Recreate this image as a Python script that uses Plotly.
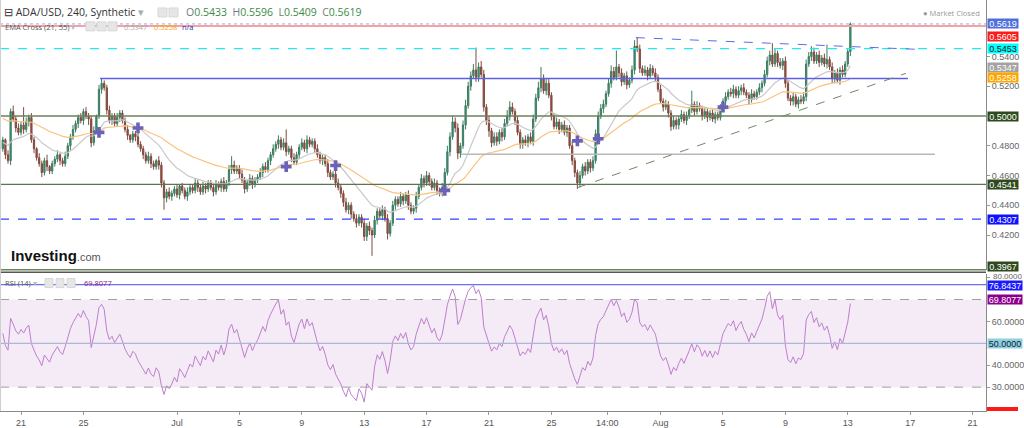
import plotly.graph_objects as go
import pandas as pd

# ---------------- data ----------------
START = "2022-06-19 20:00"          # first 4h candle
FIRST_OPEN = 0.478

CLOSES = [
    0.484, 0.474, 0.470, 0.503, 0.498, 0.492, 0.489, 0.494, 0.491, 0.496, 0.499,
    0.484, 0.478, 0.472, 0.468, 0.462, 0.470, 0.466, 0.463, 0.468, 0.471,
    0.474, 0.470, 0.468, 0.473, 0.480, 0.486, 0.491, 0.495, 0.499, 0.497,
    0.503, 0.500, 0.498, 0.482, 0.490, 0.500, 0.518, 0.522, 0.519, 0.504,
    0.497, 0.500, 0.495, 0.499, 0.502, 0.497, 0.491, 0.487, 0.484, 0.488, 0.486, 0.481,
    0.478, 0.474, 0.470, 0.473, 0.468, 0.466, 0.470, 0.467, 0.455, 0.445, 0.449, 0.446,
    0.448, 0.451, 0.447, 0.453, 0.450, 0.446, 0.449, 0.452, 0.450, 0.455, 0.452, 0.449,
    0.453, 0.451, 0.455, 0.452, 0.449, 0.454, 0.452, 0.456, 0.451, 0.455, 0.464,
    0.467, 0.463, 0.465, 0.461, 0.457, 0.451, 0.455, 0.458, 0.454, 0.457, 0.459, 0.462,
    0.466, 0.464, 0.470, 0.474, 0.478, 0.481, 0.484, 0.479, 0.482, 0.476, 0.478,
    0.472, 0.469, 0.474, 0.479, 0.482, 0.478, 0.484, 0.481, 0.483,
    0.478, 0.474, 0.470, 0.472, 0.468, 0.462, 0.459, 0.461, 0.455, 0.452, 0.448,
    0.442, 0.437, 0.440, 0.434, 0.431, 0.428, 0.432, 0.428, 0.419, 0.426, 0.423, 0.420,
    0.430, 0.436, 0.433, 0.437, 0.431, 0.421, 0.428, 0.440, 0.444, 0.441, 0.446, 0.443, 0.447,
    0.440, 0.436, 0.438, 0.446, 0.452, 0.458, 0.455, 0.460, 0.456, 0.452, 0.455, 0.450, 0.448, 0.452,
    0.462, 0.476, 0.486, 0.496, 0.492, 0.475, 0.480, 0.494, 0.507, 0.520, 0.527, 0.531, 0.526, 0.533, 0.528, 0.506,
    0.497, 0.490, 0.482, 0.486, 0.483, 0.489, 0.486, 0.495, 0.500, 0.506, 0.503, 0.497, 0.489, 0.481, 0.484, 0.482, 0.486, 0.483,
    0.498, 0.512, 0.519, 0.525, 0.517, 0.522, 0.514, 0.500, 0.493, 0.496, 0.491, 0.494, 0.489, 0.492, 0.480, 0.470, 0.462, 0.455, 0.460,
    0.466, 0.463, 0.469, 0.465, 0.470, 0.488, 0.500, 0.505, 0.508, 0.515, 0.522, 0.530, 0.526, 0.533, 0.529, 0.523, 0.527, 0.521, 0.524,
    0.531, 0.547, 0.545, 0.532, 0.529, 0.531, 0.527, 0.532, 0.529, 0.526, 0.518, 0.510, 0.506, 0.508, 0.502, 0.493, 0.497, 0.494,
    0.498, 0.501, 0.497, 0.500, 0.504, 0.508, 0.503, 0.507, 0.505, 0.500, 0.503, 0.499, 0.502, 0.498, 0.501, 0.499, 0.505, 0.510, 0.513, 0.516,
    0.515, 0.518, 0.514, 0.517, 0.519, 0.516, 0.514, 0.511, 0.515, 0.513, 0.516, 0.519, 0.522, 0.528, 0.537, 0.541, 0.535, 0.542, 0.536, 0.534, 0.537,
    0.522, 0.512, 0.510, 0.513, 0.508, 0.511, 0.510, 0.513, 0.535, 0.540, 0.543, 0.537, 0.541, 0.536, 0.539, 0.535, 0.538, 0.533, 0.525, 0.529, 0.524, 0.531, 0.528, 0.535, 0.5433, 0.5619,
]

# upper / lower wick lengths in thousandths of a dollar
WICK_UP = [
    2,1,3,2,4,2,3,2,12,3, 2,3,2,1,3,2,2,4,1,2, 2,3,1,2,3,2,2,3,2,2, 3,2,3,2,2,3,1,3,3,2,
    2,3,2,2,3,2,2,2,3,1, 2,2,3,2,2,2,3,2,2,1, 3,2,2,2,3,2,2,3,1,2, 2,3,2,2,3,2,2,3,2,2,
    2,2,3,2,2,3,2,3,6,3, 2,2,3,2,2,3,2,2,2,3, 2,3,2,2,3,2,3,2,3,9, 2,2,3,2,2,3,2,3,2,2,
    2,3,2,2,2,3,2,2,2,3, 2,2,3,2,2,2,3,2,2,3, 2,3,2,3,2,2,3,2,3,2, 3,2,2,3,2,2,3,2,2,3,
    2,3,2,3,2,2,3,2,2,3, 3,4,3,4,3,3,2,3,4,3, 3,4,15,3,4,3,2,3,2,3, 3,2,3,3,4,4,3,2,3,2,
    2,3,2,3,3,3,4,8,3,3, 3,2,2,3,2,2,3,2,2,3, 2,2,3,2,3,2,2,3,3,3, 3,3,2,3,4,3,11,2,3,2,
    3,2,3,4,6,3,2,3,2,3, 2,3,2,3,2,3,2,2,3,2, 2,3,2,3,2,9,2,3,2,2, 3,2,2,3,2,2,3,2,3,2,
    3,3,2,3,2,3,2,2,3,2, 2,3,2,3,3,3,8,3,2,3, 2,3,2,2,3,2,2,3,3,3, 3,4,3,2,3,2,3,10,2,3,
    2,3,2,3,2,2,1,
]
WICK_DN = [
    2,3,2,3,2,3,2,2,3,2, 3,2,3,2,2,3,2,3,2,2, 2,2,3,2,2,2,3,2,2,3, 2,3,2,4,3,2,2,2,3,2,
    3,2,3,2,2,3,2,2,3,2, 2,3,2,2,3,2,2,3,2,2, 3,3,8,3,2,3,2,2,3,2, 2,3,2,2,2,3,2,2,3,2,
    2,3,2,2,3,2,2,2,3,2, 2,3,2,3,2,2,3,2,2,2, 3,2,2,3,2,2,3,2,2,3, 2,3,2,2,3,2,2,3,2,2,
    3,2,2,3,2,3,2,2,3,2, 3,3,2,3,3,2,3,2,3,3, 3,3,14,2,3,2,3,2,4,2, 2,3,2,2,3,2,3,2,2,3,
    2,2,3,2,3,2,2,3,2,2, 3,2,3,2,3,4,3,2,3,2, 3,2,3,3,2,3,3,4,3,2, 3,2,3,2,2,3,2,3,2,3,
    3,2,3,2,3,2,2,3,2,3, 2,3,2,2,3,2,2,3,2,3, 3,4,3,2,3,2,3,2,2,3, 2,3,2,2,3,2,2,3,3,2,
    3,2,2,3,2,3,2,2,3,2, 2,3,2,2,3,2,3,3,2,3, 3,2,2,3,2,2,3,2,2,3, 2,3,2,2,3,2,2,2,3,2,
    2,3,2,2,3,2,2,3,2,2, 2,2,3,2,2,3,2,2,3,2, 3,3,2,3,3,2,3,2,2,3, 2,3,2,2,3,2,2,3,2,3,
    3,2,3,2,2,2,3,
]

EMA_FAST, EMA_SLOW = 21, 55
EMA_FAST_SEED, EMA_SLOW_SEED = 0.482, 0.499
RSI_LEN = 14
RSI_SEED_GAIN, RSI_SEED_LOSS = 0.0035, 0.0033

CROSS_DATES = ["2022-06-26 00:00", "2022-06-28 12:00", "2022-07-08 00:00", "2022-07-11 04:00",
               "2022-07-18 04:00", "2022-07-26 16:00", "2022-07-28 00:00", "2022-08-05 00:00"]
CROSS_PRICES = [0.489, 0.492, 0.466, 0.4667, 0.450, 0.4833, 0.4847, 0.506]

TICK_DATES = ["2022-06-21 00:00", "2022-06-25 00:00", "2022-07-01 00:00", "2022-07-05 00:00",
              "2022-07-09 00:00", "2022-07-13 00:00", "2022-07-17 00:00", "2022-07-21 00:00",
              "2022-07-25 00:00", "2022-07-28 14:00", "2022-08-01 00:00", "2022-08-05 00:00",
              "2022-08-09 00:00", "2022-08-13 00:00", "2022-08-17 00:00", "2022-08-21 00:00"]
TICK_TEXT = ["21", "25", "Jul", "5", "9", "13", "17", "21", "25", "14:00", "Aug", "5", "9", "13", "17", "21"]
PRICE_TICKS = [0.42, 0.44, 0.46, 0.48, 0.52, 0.54]
RSI_TICKS = [30, 40, 60, 80]
RSI_TOP_LABEL = "80.0000"

# ---------------- derived series ----------------
n = min(len(CLOSES), len(WICK_UP), len(WICK_DN))
closes = CLOSES[:n]
times = pd.date_range(START, periods=n, freq="4h")
opens = [FIRST_OPEN] + closes[:-1]
highs = [max(o, c) + u / 1000 for o, c, u in zip(opens, closes, WICK_UP)]
lows = [min(o, c) - d / 1000 for o, c, d in zip(opens, closes, WICK_DN)]


def ema(vals, length, seed):
    a = 2 / (length + 1)
    out, e = [], seed
    for v in vals:
        e = a * v + (1 - a) * e
        out.append(e)
    return out


ema_fast = ema(closes, EMA_FAST, EMA_FAST_SEED)
ema_slow = ema(closes, EMA_SLOW, EMA_SLOW_SEED)

rsi = []
ag, al = RSI_SEED_GAIN, RSI_SEED_LOSS
prev = FIRST_OPEN
for c in closes:
    d = c - prev
    ag = (ag * (RSI_LEN - 1) + max(d, 0)) / RSI_LEN
    al = (al * (RSI_LEN - 1) + max(-d, 0)) / RSI_LEN
    rsi.append(100 - 100 / (1 + ag / al) if al > 0 else 100)
    prev = c

# ---------------- geometry helpers ----------------
W, H = 1024, 428
ML, MR, MT, MB = 0, 38, 0, 15
PW, PH = W - ML - MR, H - MT - MB


def px(x):
    return (x - ML) / PW


def py(y):
    return 1 - (y - MT) / PH


FONT = "Liberation Sans, Arial, sans-serif"
HFONT = "Open Sans, sans-serif"

fig = go.Figure()

fig.add_trace(go.Candlestick(
    x=times, open=opens, high=highs, low=lows, close=closes,
    increasing=dict(line=dict(color="#3f7a5e", width=1), fillcolor="#23a083"),
    decreasing=dict(line=dict(color="#7d4a3f", width=1), fillcolor="#b5463b"),
    whiskerwidth=0, xaxis="x", yaxis="y", showlegend=False, hoverinfo="skip"))

fig.add_trace(go.Scatter(x=times, y=ema_fast, mode="lines", line=dict(color="#c9c9c9", width=1.2),
                         xaxis="x", yaxis="y", showlegend=False, hoverinfo="skip"))
fig.add_trace(go.Scatter(x=times, y=ema_slow, mode="lines", line=dict(color="#fbc27e", width=1.2),
                         xaxis="x", yaxis="y", showlegend=False, hoverinfo="skip"))
fig.add_trace(go.Scatter(x=CROSS_DATES, y=CROSS_PRICES, mode="markers",
                         marker=dict(symbol="cross", size=9, color="#6a62b8",
                                     line=dict(width=0)),
                         xaxis="x", yaxis="y", showlegend=False, hoverinfo="skip"))

fig.add_trace(go.Scatter(x=times, y=rsi, mode="lines", line=dict(color="#bd7fcc", width=1),
                         xaxis="x", yaxis="y2", showlegend=False, hoverinfo="skip"))

shapes = []


def hline(level, color, width=1, dash="solid", yref="y", layer="above"):
    shapes.append(dict(type="line", xref="paper", x0=0, x1=1, yref=yref, y0=level, y1=level,
                       line=dict(color=color, width=width, dash=dash), layer=layer))


# price panel levels
hline(0.5453, "#22eaf0", 1.3, "dash")
hline(0.5619, "#9aa6ea", 1, "dot")
hline(0.5605, "#f4a2a2", 2)
hline(0.5000, "#6b8159", 1.5)
hline(0.4541, "#5f7352", 1.2)
hline(0.4307, "#3344ff", 1.3, "dash")

# drawn segments (date, price pairs)
SEGMENTS = [
    (("2022-06-26 01:30", 0.5253), ("2022-08-16 20:40", 0.5253), "#5b5fe8", 1.5, "solid"),
    (("2022-07-19 05:00", 0.4743), ("2022-08-18 14:00", 0.4743), "#b8b8b8", 1.5, "solid"),
    (("2022-07-26 17:00", 0.4520), ("2022-08-16 17:30", 0.5287), "#6f8a63", 1, "dash"),
    (("2022-07-30 10:00", 0.5527), ("2022-08-17 18:00", 0.5447), "#5b6cf0", 1, "dash"),
]
for (d0, p0), (d1, p1), col, wd, ds in SEGMENTS:
    shapes.append(dict(type="line", xref="x", yref="y", x0=d0, y0=p0, x1=d1, y1=p1,
                       line=dict(color=col, width=wd, dash=ds)))

# RSI panel
shapes.append(dict(type="rect", xref="paper", x0=0, x1=1, yref="y2", y0=30, y1=70,
                   fillcolor="rgba(160,70,170,0.11)", line=dict(width=0), layer="below"))
hline(70, "#a0a0a0", 1, "dash", "y2")
hline(30, "#a0a0a0", 1, "dash", "y2")
hline(50, "#aab8d6", 1.2, "solid", "y2")
hline(76.8437, "#6a72f0", 1.2, "solid", "y2")

# panel separator
shapes.append(dict(type="line", xref="paper", x0=0, x1=1, yref="paper", y0=py(271), y1=py(271),
                   line=dict(color="#6a8558", width=1.5)))
shapes.append(dict(type="line", xref="paper", x0=0, x1=1, yref="paper", y0=py(273.5), y1=py(273.5),
                   line=dict(color="#555555", width=1.5)))
# left border
shapes.append(dict(type="line", xref="paper", x0=px(0.5), x1=px(0.5), yref="paper", y0=0, y1=1,
                   line=dict(color="#cfcfcf", width=1)))

# header icon squares
for (x0, x1, y0, y1) in [(158, 167, 8, 17), (169, 178, 8, 17),
                         (86, 95, 22, 31), (97, 106, 22, 31), (108, 117, 22, 31),
                         (45, 53, 280, 289), (56, 64, 280, 289), (67, 75, 280, 289)]:
    shapes.append(dict(type="rect", xref="paper", yref="paper", x0=px(x0), x1=px(x1),
                       y0=py(y1), y1=py(y0), fillcolor="#e6e6e6", line=dict(color="#d6d6d6", width=1)))
# red box cut at bottom right
shapes.append(dict(type="rect", xref="paper", yref="paper", x0=px(987), x1=px(1018),
                   y0=py(413), y1=py(409), fillcolor="#ff1a1a", line=dict(width=0)))

annotations = []


def label(text, yval, bg, fg, yref="y", yshift=0, width=30):
    annotations.append(dict(text=text, xref="paper", x=1, xanchor="left", xshift=1,
                            yref=yref, y=yval, yanchor="middle", yshift=yshift, showarrow=False,
                            bgcolor=bg, borderpad=0, height=9, width=width,
                            font=dict(family=FONT, size=9, color=fg)))


label("0.5619", 0.5619, "#4f6fdc", "white")
label("0.5605", 0.5605, "#ff1a1a", "white", yshift=-10)
label("0.5453", 0.5453, "#00ffff", "#111")
label("0.5347", 0.5347, "#a3a3a3", "white", yshift=-3)
label("0.5258", 0.5258, "#ffa500", "white", yshift=0)
label("0.5000", 0.5000, "#2e4a1e", "white")
label("0.4541", 0.4541, "#2e4a1e", "white")
label("0.4307", 0.4307, "#1010ff", "white")
label("0.3967", 0.3967, "#2e4a1e", "white", yshift=3)
label("76.8437", 76.8437, "#1a1aff", "white", "y2", yshift=-1, width=34)
label("69.8077", 69.8077, "#8b008b", "white", "y2", width=34)
label("50.0000", 50, "#8fd0e0", "#123", "y2", width=34)

# top RSI tick text, squeezed just under the panel separator as in the reference
annotations.append(dict(text=RSI_TOP_LABEL, xref="paper", x=1, xanchor="left", xshift=5,
                        yref="paper", y=py(277.5), yanchor="middle", showarrow=False,
                        font=dict(family=FONT, size=8, color="#666")))


def text(x, y, s, size, color="#333", family=HFONT, anchor="left"):
    annotations.append(dict(text=s, xref="paper", yref="paper", x=px(x), y=py(y), xanchor=anchor,
                            yanchor="middle", showarrow=False,
                            font=dict(family=family, size=size, color=color)))


text(2, 12, "⊟ ADA/USD, 240, Synthetic <span style='color:#aaa'>▾</span>", 10.5, "#333")
G = "#3c8a46"
text(184, 12, f"<span style='color:#777'>O</span><span style='color:{G}'>0.5433</span>  "
              f"<span style='color:#777'>H</span><span style='color:{G}'>0.5596</span>  "
              f"<span style='color:#777'>L</span><span style='color:{G}'>0.5409</span>  "
              f"<span style='color:#777'>C</span><span style='color:{G}'>0.5619</span>", 10.5)
text(3, 27, "EMA Cross (21, 55) <span style='color:#bbb'>▾</span>", 7.5, "#555")
text(122, 27, "0.5347", 7.5, "#aaaaaa")
text(152, 27, "0.5258", 7.5, "#ffa500")
text(180, 27, "n/a", 7.5, "#2233bb")
text(3, 284, "RSI (14) <span style='color:#bbb'>▾</span>", 7.5, "#555")
text(82, 284, "69.8077", 7.5, "#8b1a8b")
text(982, 13, "● Market Closed", 7.5, "#999999", anchor="right")
text(9, 257, "<b>Investing</b><span style='font-size:11px;color:#555'>.com</span>", 15, "#111",
     family="Liberation Sans, Arial, sans-serif")

fig.update_layout(
    width=W, height=H, margin=dict(l=ML, r=MR, t=MT, b=MB),
    paper_bgcolor="white", plot_bgcolor="white",
    shapes=shapes, annotations=annotations, showlegend=False,
    xaxis=dict(type="date", range=["2022-06-19 15:41", "2022-08-21 20:39"], anchor="y2",
               domain=[0, 1], rangeslider=dict(visible=False), showgrid=False, zeroline=False,
               tickvals=TICK_DATES, ticktext=TICK_TEXT, ticks="outside", ticklen=3,
               tickcolor="#999", showline=True, linecolor="#8a8a8a", linewidth=1,
               tickfont=dict(family=FONT, size=9, color="#555")),
    yaxis=dict(domain=[py(271), 1], range=[0.3967, 0.578], side="right", anchor="x",
               showgrid=False, zeroline=False, showline=True, linecolor="#8a8a8a",
               tickvals=PRICE_TICKS, ticktext=[f"{v:.4f}" for v in PRICE_TICKS],
               ticks="outside", ticklen=3, tickcolor="#999",
               tickfont=dict(family=FONT, size=9, color="#666")),
    yaxis2=dict(domain=[0, py(275)], range=[19.1, 81.8], side="right", anchor="x",
                showgrid=False, zeroline=False, showline=True, linecolor="#8a8a8a",
                tickvals=RSI_TICKS,
                ticktext=[f"{v:.4f}" if v != 80 else "" for v in RSI_TICKS],
                ticks="outside", ticklen=3, tickcolor="#999",
                tickfont=dict(family=FONT, size=9, color="#666")),
)

fig.write_html("out.html")
